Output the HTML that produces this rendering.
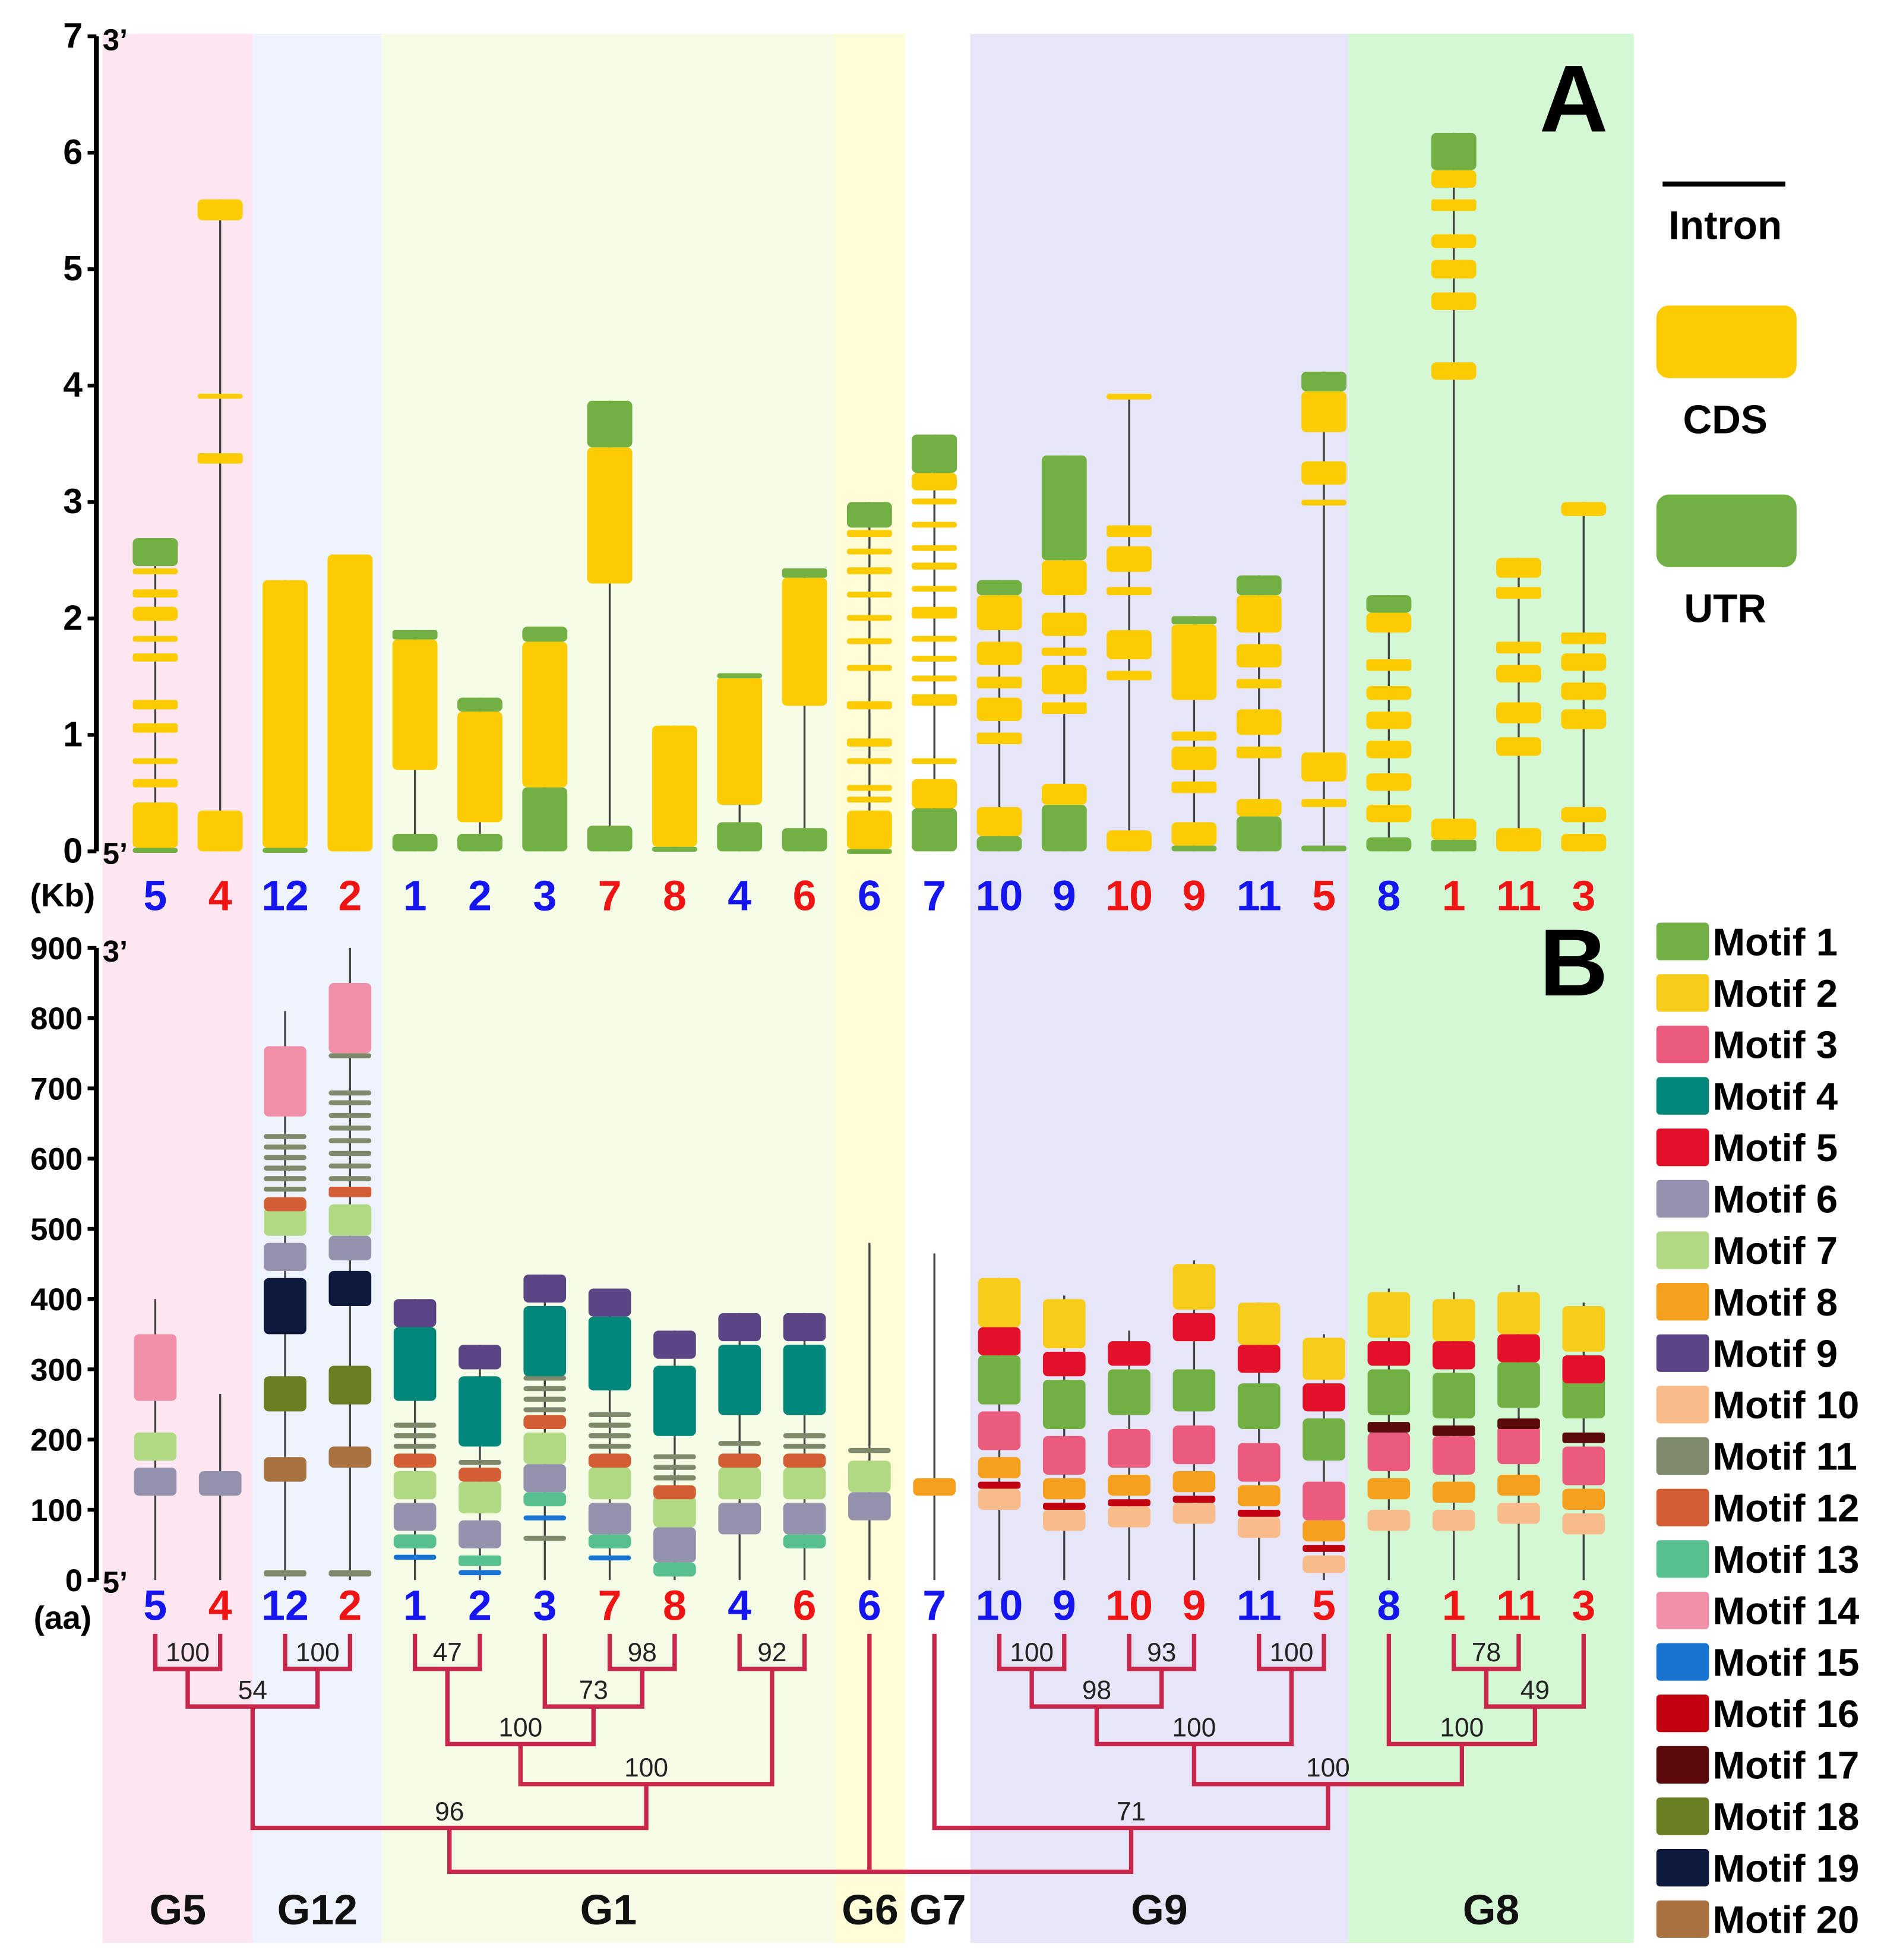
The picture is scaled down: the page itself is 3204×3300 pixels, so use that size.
<!DOCTYPE html>
<html><head><meta charset="utf-8"><style>
html,body{margin:0;padding:0;background:#fff}
svg{display:block;font-family:"Liberation Sans",Arial,sans-serif}
</style></head><body>
<svg id="fig" width="3204" height="3300" viewBox="0 0 1520 1565.5" preserveAspectRatio="none" xmlns="http://www.w3.org/2000/svg">
<g id="bands"></g><g id="plot"></g>
</svg>
<script>
const groupNames=["G5","G12","G1","G6","G7","G9","G8"];
const groupX0=[82,202,305,667,723,775,1077];
const groupX1=[202,305,667,723,775,1077,1305];
const groupCol=["#fde6ef","#eef3fd","#f6fde6","#fefdd8","#ffffff","#e7e6f8","#d4f8d4"];
const geneLabels=["5","4","12","2","1","2","3","7","8","4","6","6","7","10","9","10","9","11","5","8","1","11","3"];
const geneLabelCol=["b","r","b","r","b","b","b","r","r","b","r","b","b","b","b","r","r","b","r","b","r","r","r"];
const kbTicks=[0,1,2,3,4,5,6,7];
const aaTicks=[0,100,200,300,400,500,600,700,800,900];
const exonsA=[
[[0,0.03,"U"],[0.03,0.42,"C"],[0.55,0.62,"C"],[0.75,0.8,"C"],[1.02,1.1,"C"],[1.22,1.3,"C"],[1.63,1.7,"C"],[1.8,1.85,"C"],[1.98,2.1,"C"],[2.18,2.25,"C"],[2.38,2.43,"C"],[2.45,2.69,"U"]],
[[0,0.35,"C"],[3.33,3.42,"C"],[3.9,3.93,"C"],[5.42,5.6,"C"]],
[[0,0.03,"U"],[0.03,2.33,"C"]],
[[0,2.55,"C"]],
[[0,0.15,"U"],[0.7,1.82,"C"],[1.82,1.9,"U"]],
[[0,0.15,"U"],[0.25,1.2,"C"],[1.2,1.32,"U"]],
[[0,0.55,"U"],[0.55,1.8,"C"],[1.8,1.93,"U"]],
[[0,0.22,"U"],[2.3,3.47,"C"],[3.47,3.87,"U"]],
[[0,0.04,"U"],[0.04,1.08,"C"]],
[[0,0.25,"U"],[0.4,1.5,"C"],[1.5,1.53,"U"]],
[[0,0.2,"U"],[1.25,2.35,"C"],[2.35,2.43,"U"]],
[[0,0.02,"U"],[0.02,0.35,"C"],[0.42,0.47,"C"],[0.52,0.57,"C"],[0.75,0.8,"C"],[0.9,0.97,"C"],[1.22,1.29,"C"],[1.55,1.6,"C"],[1.78,1.83,"C"],[1.98,2.03,"C"],[2.18,2.23,"C"],[2.38,2.44,"C"],[2.55,2.6,"C"],[2.7,2.76,"C"],[2.78,3.0,"U"]],
[[0,0.37,"U"],[0.37,0.62,"C"],[0.75,0.8,"C"],[1.25,1.35,"C"],[1.46,1.51,"C"],[1.63,1.68,"C"],[1.8,1.85,"C"],[2.0,2.1,"C"],[2.23,2.28,"C"],[2.42,2.48,"C"],[2.58,2.63,"C"],[2.78,2.83,"C"],[2.98,3.03,"C"],[3.1,3.25,"C"],[3.25,3.58,"U"]],
[[0,0.13,"U"],[0.13,0.38,"C"],[0.92,1.02,"C"],[1.12,1.32,"C"],[1.4,1.5,"C"],[1.6,1.8,"C"],[1.9,2.2,"C"],[2.2,2.33,"U"]],
[[0,0.4,"U"],[0.4,0.58,"C"],[1.18,1.28,"C"],[1.35,1.6,"C"],[1.68,1.75,"C"],[1.85,2.05,"C"],[2.2,2.5,"C"],[2.5,3.4,"U"]],
[[0,0.18,"C"],[1.47,1.55,"C"],[1.65,1.9,"C"],[2.2,2.27,"C"],[2.4,2.62,"C"],[2.7,2.8,"C"],[3.88,3.93,"C"]],
[[0,0.05,"U"],[0.05,0.25,"C"],[0.5,0.6,"C"],[0.7,0.9,"C"],[0.95,1.03,"C"],[1.3,1.95,"C"],[1.95,2.02,"U"]],
[[0,0.3,"U"],[0.3,0.45,"C"],[0.8,0.9,"C"],[1.0,1.22,"C"],[1.4,1.48,"C"],[1.58,1.78,"C"],[1.88,2.2,"C"],[2.2,2.37,"U"]],
[[0,0.05,"U"],[0.38,0.45,"C"],[0.6,0.85,"C"],[2.97,3.02,"C"],[3.15,3.35,"C"],[3.6,3.95,"C"],[3.95,4.12,"U"]],
[[0,0.12,"U"],[0.25,0.4,"C"],[0.52,0.67,"C"],[0.8,0.95,"C"],[1.05,1.2,"C"],[1.3,1.42,"C"],[1.55,1.65,"C"],[1.88,2.05,"C"],[2.05,2.2,"U"]],
[[0,0.1,"U"],[0.1,0.28,"C"],[4.05,4.2,"C"],[4.65,4.8,"C"],[4.92,5.08,"C"],[5.18,5.3,"C"],[5.5,5.6,"C"],[5.7,5.85,"C"],[5.85,6.17,"U"]],
[[0,0.2,"C"],[0.82,0.98,"C"],[1.1,1.28,"C"],[1.45,1.6,"C"],[1.7,1.8,"C"],[2.17,2.27,"C"],[2.35,2.52,"C"]],
[[0,0.15,"C"],[0.25,0.38,"C"],[1.05,1.22,"C"],[1.3,1.45,"C"],[1.55,1.7,"C"],[1.78,1.88,"C"],[2.88,3.0,"C"]]
];
const protLen=[400,265,810,900,400,335,435,415,355,380,380,480,465,430,405,355,455,395,350,415,410,420,395];
const motifsB=[
[[6,120,160],[7,170,210],[14,255,350]],
[[6,120,155]],
[[11,5,14],[20,140,175],[18,240,290],[19,350,430],[6,440,480],[7,490,530],[12,525,545],[11,553,560],[11,568,575],[11,583,590],[11,598,605],[11,613,620],[11,628,635],[14,660,760]],
[[11,5,14],[20,160,190],[18,250,305],[19,390,440],[6,455,490],[7,490,535],[12,545,560],[11,568,575],[11,586,593],[11,604,611],[11,622,629],[11,640,647],[11,658,665],[11,676,683],[11,690,697],[11,743,750],[14,750,850]],
[[15,30,36],[13,45,65],[6,70,110],[7,115,155],[12,160,180],[11,188,194],[11,203,209],[11,218,224],[4,255,360],[9,360,400]],
[[15,8,14],[13,20,35],[6,45,85],[7,95,140],[12,140,160],[11,165,171],[4,190,290],[9,300,335]],
[[11,57,63],[15,85,92],[13,105,125],[6,125,165],[7,165,210],[12,215,235],[11,240,246],[11,255,261],[11,270,276],[11,285,291],[4,290,390],[9,395,435]],
[[15,28,35],[13,45,65],[6,65,110],[7,115,160],[12,160,180],[11,188,194],[11,203,209],[11,218,224],[11,233,239],[4,270,375],[9,375,415]],
[[13,5,25],[6,25,75],[7,75,120],[12,115,135],[11,143,149],[11,158,164],[11,173,179],[4,205,305],[9,315,355]],
[[6,65,110],[7,115,160],[12,160,180],[11,192,198],[4,235,335],[9,340,380]],
[[13,45,65],[6,65,110],[7,115,160],[12,160,180],[11,188,194],[11,203,209],[4,235,335],[9,340,380]],
[[6,85,125],[7,125,170],[11,182,188]],
[[8,120,145]],
[[10,100,130],[16,130,140],[8,145,175],[3,185,240],[1,250,320],[5,320,360],[2,360,430]],
[[10,70,100],[16,100,110],[8,115,145],[3,150,205],[1,215,285],[5,290,325],[2,330,400]],
[[10,75,105],[16,105,115],[8,120,150],[3,160,215],[1,235,300],[5,305,340]],
[[10,80,110],[16,110,120],[8,125,155],[3,165,220],[1,240,300],[5,340,380],[2,385,450]],
[[10,60,90],[16,90,100],[8,105,135],[3,140,195],[1,215,280],[5,295,335],[2,335,395]],
[[10,10,35],[16,40,50],[8,55,85],[3,85,140],[1,170,230],[5,240,280],[2,285,345]],
[[10,70,100],[8,115,145],[3,155,210],[17,210,225],[1,235,300],[5,305,340],[2,345,410]],
[[10,70,100],[8,110,140],[3,150,205],[17,205,220],[1,230,295],[5,300,340],[2,340,400]],
[[10,80,110],[8,120,150],[3,165,220],[17,215,230],[1,245,310],[5,310,350],[2,350,410]],
[[10,65,95],[8,100,130],[3,135,190],[17,195,210],[1,230,295],[5,280,320],[2,325,390]]
];
const motifNames=["Motif 1","Motif 2","Motif 3","Motif 4","Motif 5","Motif 6","Motif 7","Motif 8","Motif 9","Motif 10","Motif 11","Motif 12","Motif 13","Motif 14","Motif 15","Motif 16","Motif 17","Motif 18","Motif 19","Motif 20"];
const motifCol=["#72b043","#f8cc1b","#ea5b7d","#00877a","#e3102a","#9592ad","#b1d882","#f5a01e","#5c4584","#f8bb8a","#7f8a6c","#d35e34","#58c08f","#f08fa8","#1775d1","#c10010","#5a0a0a","#6a7f22","#0e1a3d","#a77140"];
const treeNodes=[
["L0","L1",1,"100"],["L2","L3",1,"100"],["N0","N1",2,"54"],
["L4","L5",1,"47"],["L7","L8",1,"98"],["L6","N4",2,"73"],["N3","N5",3,"100"],["L9","L10",1,"92"],["N6","N7",4,"100"],["N2","N8",5,"96"],
["L13","L14",1,"100"],["L15","L16",1,"93"],["L17","L18",1,"100"],["N10","N11",2,"98"],["N13","N12",3,"100"],
["L20","L21",1,"78"],["N15","L22",2,"49"],["L19","N16",3,"100"],["N14","N17",4,"100"],["L12","N18",5,"71"],
["N9","N19",6,""]
];
const rootExtra="L11";

const NS="http://www.w3.org/2000/svg";
const bands=document.getElementById('bands'), plot=document.getElementById('plot');
function el(tag,attrs,parent,text){const e=document.createElementNS(NS,tag);for(const k in attrs)e.setAttribute(k,attrs[k]);if(text!==undefined)e.textContent=text;(parent||plot).appendChild(e);return e;}
const colX=i=>124+i*51.86;
const yA=v=>680-v*93.0;
const yB=v=>1262-v*0.561;

groupNames.forEach((g,i)=>{
 const r=el('rect',{x:groupX0[i],y:27,width:groupX1[i]-groupX0[i],height:1525,fill:groupCol[i]},bands);
 
 
 const t=el('text',{x:(groupX0[i]+groupX1[i])/2,y:1537,'font-size':34,'font-weight':'bold','text-anchor':'middle',fill:'#111'},plot,g);
 
 
});

function axis(ticks,yf,name,unit,unitY,fs){
 const a=el('line',{x1:77,y1:yf(ticks[ticks.length-1]),x2:77,y2:yf(0),stroke:'#000','stroke-width':4});
 
 
 ticks.forEach(t=>{
  el('line',{x1:70,y1:yf(t),x2:77,y2:yf(t),stroke:'#000','stroke-width':3});
  const tx=el('text',{x:66,y:yf(t)+9,'font-size':fs,'font-weight':'bold','text-anchor':'end'},plot,t);
  
  
 });
 el('text',{x:82,y:yf(ticks[ticks.length-1])+11,'font-size':24,'font-weight':'bold'},plot,"3\u2019");
 el('text',{x:82,y:yf(0)+10,'font-size':24,'font-weight':'bold'},plot,"5\u2019");
 const u=el('text',{x:50,y:unitY,'font-size':26,'font-weight':'bold','text-anchor':'middle'},plot,unit);
 
 
}
axis(kbTicks,yA,'kb','(Kb)',724,28);
axis(aaTicks,yB,'aa','(aa)',1301,25);

exonsA.forEach((ex,i)=>{
 const x=colX(i);
 let mx=0;ex.forEach(e=>mx=Math.max(mx,e[1]));
 el('line',{x1:x,y1:yA(0),x2:x,y2:yA(mx),stroke:'#444','stroke-width':1.6});
 ex.forEach(e=>{
  const y1=yA(e[1]),h=Math.max(4,yA(e[0])-yA(e[1]));
  const r=el('rect',{x:x-18,y:y1,width:36,height:h,rx:h>10?4:2,fill:e[2]==='C'?'#fccc02':'#72b043'});
  
  
 });
 [[715,'gene-label-a'],[1282,'gene-label-b']].forEach(([yy,nm])=>{
  const t=el('text',{x:x,y:yy+12,'font-size':34,'font-weight':'bold','text-anchor':'middle',fill:geneLabelCol[i]==='b'?'#1515f0':'#f01515'},plot,geneLabels[i]);
  
  
 });
});

motifsB.forEach((ms,i)=>{
 const x=colX(i);
 el('line',{x1:x,y1:yB(0),x2:x,y2:yB(protLen[i]),stroke:'#444','stroke-width':1.6});
 ms.forEach(m=>{
  const y1=yB(m[2]),h=Math.max(4,yB(m[1])-yB(m[2]));
  const r=el('rect',{x:x-17,y:y1,width:34,height:h,rx:h>10?4:2,fill:motifCol[m[0]-1]});
  
  
 });
});

const levelY=[1305,1333,1363,1393,1425,1460,1495];
const treeCol='#c8264a';
const nodeX={};
function pos(id){return id[0]==='L'?{x:colX(+id.slice(1)),y:1305}:nodeX[id];}
treeNodes.forEach((n,i)=>{
 const a=pos(n[0]),b=pos(n[1]),y=levelY[n[2]];
 const p=el('path',{d:`M${a.x},${a.y} V${y} H${b.x} V${b.y}`,fill:'none',stroke:treeCol,'stroke-width':3.5});
 
 
 const mx=(a.x+b.x)/2;
 nodeX['N'+i]={x:mx,y:y};
 if(n[3]){const t=el('text',{x:mx,y:y-6,'font-size':21,'text-anchor':'middle',fill:'#222'},plot,n[3]);
  
  }
});
(function(){const a=pos(rootExtra);
 const l=el('line',{x1:a.x,y1:a.y,x2:a.x,y2:levelY[6],stroke:treeCol,'stroke-width':3.5});
 
 })();

[['A',105],['B',795]].forEach(([s,y])=>{
 const t=el('text',{x:1257,y:y,'font-size':76,'font-weight':'bold','text-anchor':'middle'},plot,s);
 
 
});

let il=el('line',{x1:1328,y1:147,x2:1426,y2:147,stroke:'#000','stroke-width':4});


el('text',{x:1378,y:191,'font-size':32,'font-weight':'bold','text-anchor':'middle'},plot,'Intron');
let cb=el('rect',{x:1323,y:244,width:112,height:58,rx:10,fill:'#fccc02'});


el('text',{x:1378,y:346,'font-size':32,'font-weight':'bold','text-anchor':'middle'},plot,'CDS');
let ub=el('rect',{x:1323,y:395,width:112,height:58,rx:10,fill:'#72b043'});


el('text',{x:1378,y:497,'font-size':32,'font-weight':'bold','text-anchor':'middle'},plot,'UTR');

motifNames.forEach((m,i)=>{
 const y=751+i*41.1;
 const r=el('rect',{x:1323,y:y-14,width:42,height:30,rx:3,fill:motifCol[i]});
 
 
 const t=el('text',{x:1368,y:y+12,'font-size':31,'font-weight':'bold'},plot,m);
 
 
});
</script>
</body></html>
